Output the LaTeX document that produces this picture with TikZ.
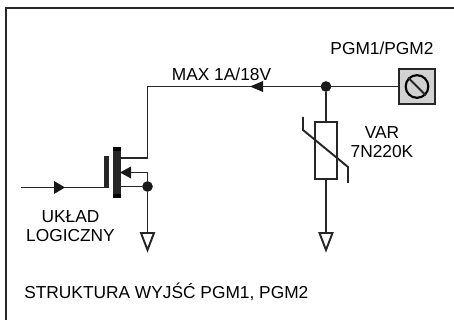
\documentclass[tikz,border=0pt]{standalone}
\usepackage{fontspec}
\setmainfont{Liberation Sans}
\usepackage{tikz}
\usetikzlibrary{calc,positioning}

\tikzset{
  wire/.style={line width=1.45pt,color=black!85},
  label/.style={inner sep=0pt,align=center,font=\fontsize{13}{14.25}\selectfont},
  dot/.style={circle,fill=black!90,inner sep=0pt,minimum size=8pt},
  gnd/.pic={\draw[wire,line join=miter] (-6.5,0) -- (6.5,0) -- (0,17) -- cycle;}
}

\begin{document}
\begin{tikzpicture}[x=0.75pt,y=-0.75pt]
\useasboundingbox (0,0) rectangle (454,320);

% Frame
\draw[line width=1.7pt,color=black!85] (6,320) -- (6,8) -- (454,8);

% Terminal
\node[draw=black!85,line width=1.5pt,fill=black!18,minimum size=26.5pt,inner sep=0pt] (term) at (417,86.5) {};
\node[draw=black,line width=1.6pt,circle,minimum size=17pt,inner sep=0pt] (screw) at (term.center) {};
\draw[wire] (screw.135) -- (screw.-45);

% Varistor
\node[draw=black!85,line width=1.45pt,fill=white,minimum width=16.5pt,minimum height=43pt,inner sep=0pt] (var) at (326,150.5) {};
\node[dot] (node1) at (326,86.5) {};
\coordinate (gndvar) at (326,233);
\draw[wire] (node1) -- (var.north);
\draw[wire] (var.south) -- (gndvar);
\pic at (gndvar) {gnd};
\draw[wire] (303,117) -- (303,130) -- (348,167) -- (348,183);

% Transistor
\node[fill=black!85,minimum width=3.7pt,minimum height=24pt,inner sep=0pt] (gate) at (106.5,172) {};
\node[fill=black!85,minimum width=6pt,minimum height=38pt,inner sep=0pt] (chan) at (117,172.5) {};
\fill[black] (chan.north west) rectangle ($(chan.north east)+(0,4)$);
\fill[black] (chan.south west) rectangle ($(chan.south east)+(0,-4)$);
\node[dot] (node2) at (147.5,186.5) {};
\coordinate (drain) at (147.5,158);
\coordinate (corner) at (147.5,86.5);
\coordinate (gndfet) at (147.5,233);
\coordinate (input) at (21,187.5);
\coordinate (sub) at (147.5,172.5);
\coordinate (gatein) at (108,187.5);

% Wires
\draw[wire] (term.west) -- (corner) -- (drain) -- (chan.east |- drain);
\draw[wire] (node2) -- (chan.east |- node2);
\draw[wire] (node2) -- (sub) -- (chan.east |- sub);
\draw[wire] (node2) -- (gndfet);
\pic at (gndfet) {gnd};
\draw[wire] (input) -- (gatein);

% Arrow heads
\fill[black!90] (250,86.5) -- (263,81) -- (263,92) -- cycle;
\fill[black!90] (120,172.5) -- (131,166.5) -- (131,178.5) -- cycle;
\fill[black!90] (65,187.5) -- (54,181) -- (54,194) -- cycle;

% Labels
\node[label] (max) at (221.5,74) {MAX 1A/18V};
\node[label] (pgm) at (382,48) {PGM1/PGM2};
\node[label] (varname) at (382,142) {VAR\\7N220K};
\node[label] (logic) at (70.5,226.5) {UKŁAD\\LOGICZNY};
\node[label,anchor=west] (title) at (24,292) {STRUKTURA WYJŚĆ PGM1, PGM2};
\end{tikzpicture}
\end{document}
